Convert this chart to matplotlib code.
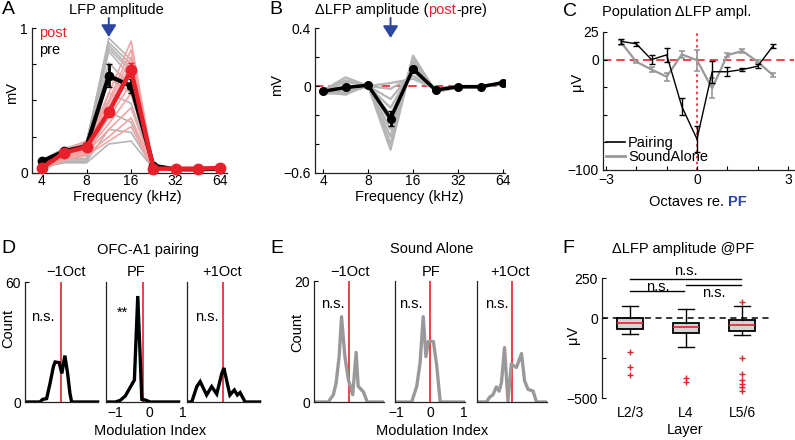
import matplotlib
matplotlib.use('Agg')
import matplotlib.pyplot as plt
from matplotlib.ticker import NullLocator
from matplotlib.lines import Line2D

plt.rcParams['font.family'] = ['Liberation Sans', 'DejaVu Sans']
plt.rcParams['font.size'] = 10
plt.rcParams['axes.linewidth'] = 0.9
plt.rcParams['axes.edgecolor'] = '#222222'
plt.rcParams['xtick.direction'] = 'in'
plt.rcParams['ytick.direction'] = 'in'
plt.rcParams['xtick.major.size'] = 3
plt.rcParams['ytick.major.size'] = 3
plt.rcParams['xtick.major.pad'] = 0.8
plt.rcParams['ytick.major.pad'] = 3
plt.rcParams['xtick.labelsize'] = 10
plt.rcParams['ytick.labelsize'] = 10

RED = '#e8202a'
PINK = '#f3a3a3'
GRAY = '#b5b5b5'
MGRAY = '#999999'
BLUE = '#2c45a0'
FS = 10.5

# ---------------- data ----------------
freqs = [4, 5.66, 8, 11.31, 16, 22.63, 32, 45.25, 64]
freq_ticks = [4, 8, 16, 32, 64]
pre_mean = [0.08, 0.15, 0.185, 0.67, 0.60, 0.05, 0.025, 0.025, 0.03]
pre_err = [0.01, 0.01, 0.01, 0.08, 0.05, 0.01, 0.005, 0.005, 0.005]
post_mean = [0.035, 0.14, 0.18, 0.42, 0.71, 0.03, 0.03, 0.03, 0.035]
post_err = [0.01, 0.01, 0.01, 0.03, 0.05, 0.005, 0.005, 0.005, 0.005]
pre_ind = [
    [0.08, 0.15, 0.20, 0.93, 0.78, 0.05, 0.03, 0.03, 0.03],
    [0.09, 0.17, 0.21, 0.90, 0.75, 0.04, 0.03, 0.03, 0.03],
    [0.07, 0.14, 0.18, 0.88, 0.72, 0.05, 0.02, 0.03, 0.03],
    [0.08, 0.16, 0.22, 0.86, 0.70, 0.06, 0.03, 0.03, 0.04],
    [0.06, 0.12, 0.15, 0.84, 0.66, 0.04, 0.02, 0.02, 0.03],
    [0.07, 0.13, 0.17, 0.76, 0.60, 0.05, 0.03, 0.03, 0.03],
    [0.05, 0.11, 0.12, 0.66, 0.55, 0.04, 0.02, 0.02, 0.03],
    [0.06, 0.10, 0.10, 0.55, 0.48, 0.03, 0.02, 0.02, 0.02],
    [0.05, 0.09, 0.09, 0.42, 0.35, 0.03, 0.02, 0.02, 0.02],
    [0.05, 0.08, 0.08, 0.30, 0.28, 0.03, 0.02, 0.02, 0.02],
    [0.04, 0.07, 0.07, 0.20, 0.22, 0.03, 0.02, 0.02, 0.02],
]
post_ind = [
    [0.04, 0.15, 0.20, 0.55, 0.91, 0.04, 0.02, 0.03, 0.03],
    [0.05, 0.16, 0.22, 0.50, 0.85, 0.03, 0.02, 0.03, 0.03],
    [0.03, 0.14, 0.19, 0.48, 0.80, 0.03, 0.02, 0.02, 0.03],
    [0.04, 0.15, 0.18, 0.45, 0.76, 0.04, 0.02, 0.03, 0.04],
    [0.03, 0.13, 0.17, 0.42, 0.70, 0.03, 0.02, 0.03, 0.03],
    [0.04, 0.12, 0.16, 0.38, 0.62, 0.03, 0.02, 0.02, 0.03],
    [0.03, 0.12, 0.15, 0.34, 0.55, 0.03, 0.02, 0.02, 0.03],
    [0.03, 0.11, 0.14, 0.30, 0.45, 0.02, 0.02, 0.02, 0.02],
    [0.03, 0.10, 0.13, 0.25, 0.38, 0.02, 0.02, 0.02, 0.02],
    [0.02, 0.09, 0.12, 0.22, 0.32, 0.02, 0.02, 0.02, 0.02],
]

diff_mean = [-0.037, -0.01, 0.005, -0.225, 0.118, -0.028, -0.005, -0.005, 0.023]
diff_err = [0.005, 0.01, 0.005, 0.05, 0.02, 0.005, 0.005, 0.005, 0.005]
diff_ind = [
    [-0.03, 0.06, 0.00, 0.02, 0.05, -0.02, 0.00, 0.00, 0.01],
    [-0.03, 0.04, 0.00, -0.02, 0.07, -0.02, 0.00, 0.00, 0.01],
    [-0.04, 0.03, 0.00, -0.09, 0.10, -0.03, -0.01, 0.00, 0.02],
    [-0.04, 0.00, 0.00, -0.15, 0.12, -0.03, -0.01, -0.01, 0.02],
    [-0.04, -0.02, 0.00, -0.20, 0.14, -0.03, -0.01, -0.01, 0.02],
    [-0.05, -0.03, 0.01, -0.25, 0.16, -0.04, -0.01, -0.01, 0.02],
    [-0.04, -0.04, 0.00, -0.30, 0.18, -0.03, 0.00, -0.01, 0.02],
    [-0.05, -0.05, 0.00, -0.35, 0.20, -0.04, -0.01, -0.01, 0.03],
    [-0.04, -0.06, 0.01, -0.40, 0.21, -0.04, -0.01, -0.01, 0.02],
    [-0.05, -0.05, 0.00, -0.44, 0.19, -0.04, 0.00, -0.01, 0.02],
]

octaves = [-2.5, -2, -1.5, -1, -0.5, 0, 0.5, 1, 1.5, 2, 2.5]
pair_mean = [16.5, 14.3, 0, 4.3, -42.5, -72, -11, -11, -9, -6, 12]
pair_err = [2.3, 1.9, 3.9, 6.5, 7.8, 12, 10, 4.2, 1.5, 1.7, 1.9]
alone_mean = [15.5, -2, -9, -15.5, 4.7, -0.6, -26, 4, 7.8, -2, -14]
alone_err = [2, 1, 2, 3.5, 3, 9.3, 9, 2, 1.5, 1.5, 1.5]

d_minus_x = [-1.28, -0.84, -0.76, -0.64, -0.54, -0.44, -0.39, -0.27, -0.19, -0.10, -0.02, 0.05, 0.10, 0.87]
d_minus_y = [0, 0, 1.3, 1.7, 9.3, 17.7, 20, 19.7, 14.3, 23.2, 14.3, 4.3, 0, 0]
d_pf_x = [-1.28, -1.0, -0.86, -0.71, -0.44, -0.34, -0.22, -0.12, 0.03, 0.87]
d_pf_y = [0, 0, 0.8, 3, 11, 53, 1.3, 1.0, 0, 0]
d_plus_x = [-1.28, -1.14, -0.99, -0.89, -0.70, -0.55, -0.40, -0.25, -0.19, -0.01, 0.12, 0.21, 0.29, 0.44, 0.87]
d_plus_y = [0, 0, 7.7, 10.2, 3.5, 7.7, 4, 14.3, 17, 3.5, 6, 3.5, 4.7, 0, 0]
d_red = [-0.22, -0.19, -0.21]

e_minus_x = [-1.03, -0.61, -0.46, -0.38, -0.29, -0.22, -0.12, -0.02, 0.11, 0.21, 0.27, 0.42, 0.54, 1.03]
e_minus_y = [0, 0, 1.2, 3.1, 7.5, 14.1, 7.5, 3.7, 1.2, 8.2, 2.6, 1.7, 0, 0]
e_pf_x = [-1.03, -0.54, -0.39, -0.29, -0.20, -0.12, -0.05, 0.10, 0.20, 0.30, 1.03]
e_pf_y = [0, 0, 2.6, 6.6, 14.1, 7.5, 10, 10, 5.9, 0, 0]
e_plus_x = [-1.03, -0.75, -0.66, -0.56, -0.46, -0.38, -0.31, -0.22, -0.12, -0.02, 0.13, 0.28, 0.37, 0.47, 0.62, 0.72, 1.03]
e_plus_y = [0, 0, 0.8, 1.2, 2.5, 1.8, 3.2, 9.0, 0.2, 6.3, 5.7, 8.0, 3.5, 2.1, 1.8, 0, 0]
e_red = [0.0, 0.0, 0.0]

layers = ['L2/3', 'L4', 'L5/6']
box_q1 = [-67, -94, -83]
box_med = [-33, -58, -46]
box_q3 = [0, -31, -15]
whisk_lo = [-98, -183, -106]
whisk_hi = [77, 56, 73]
fliers_l23 = [-212, -306, -358]
fliers_l4 = [-375, -400]
fliers_l56 = [98, -250, -350, -390, -410, -431, -458]

# ---------------- figure ----------------
W, H = 795, 440
fig = plt.figure(figsize=(W / 100, H / 100), dpi=100)


def add_ax(x0, y0, x1, y1):
    ax = fig.add_axes([x0 / W, 1 - y1 / H, (x1 - x0) / W, (y1 - y0) / H])
    ax.patch.set_alpha(0)
    for s in ['top', 'right']:
        ax.spines[s].set_visible(False)
    return ax


def ftext(x, y, s, **kw):
    kw.setdefault('ha', 'center')
    kw.setdefault('va', 'center')
    kw.setdefault('fontsize', FS)
    return fig.text(x / W, 1 - y / H, s, **kw)


def chain(x, y_base, parts):
    r = fig.canvas.get_renderer()
    xx = x
    for s, c, gap, extra in parts:
        xx += gap
        t = fig.text(xx / W, 1 - y_base / H, s, color=c, ha='left', va='baseline',
                     fontsize=FS, **extra)
        bb = t.get_window_extent(r)
        xx = bb.x1


def arrow(ax, xdata, y0, y1):
    ax.annotate('', xy=(xdata, 1 - y1 / H), xytext=(xdata, 1 - y0 / H),
                xycoords=('data', 'figure fraction'), textcoords=('data', 'figure fraction'),
                arrowprops=dict(arrowstyle='-|>,head_length=0.6,head_width=0.38',
                                mutation_scale=12, color=BLUE, lw=1.4, shrinkA=0, shrinkB=0),
                annotation_clip=False)


# ---------------- A ----------------
axA = add_ax(32, 28, 227, 173)
axA.set_xscale('log', base=2)
for row in pre_ind:
    axA.plot(freqs, row, color=GRAY, lw=1.2, zorder=1)
for row in post_ind:
    axA.plot(freqs, row, color=PINK, lw=1.2, zorder=1.5)
axA.errorbar(freqs, pre_mean, yerr=pre_err, color='k', lw=3, marker='o', ms=6,
             capsize=2, elinewidth=2, zorder=3, clip_on=False)
axA.errorbar(freqs, post_mean, yerr=post_err, color=RED, lw=3.2, marker='o', ms=7.5,
             capsize=2, elinewidth=2, zorder=4, clip_on=False)
axA.set_xlim(3.43, 71)
axA.set_ylim(0, 1)
axA.xaxis.set_minor_locator(NullLocator())
axA.set_xticks(freq_ticks, [str(f) for f in freq_ticks])
axA.set_yticks([0, 0.25, 0.5, 0.75, 1], ['0', '', '', '', '1'])
ftext(12, 93, 'mV', rotation=90)
ftext(127, 197, 'Frequency (kHz)')
ftext(116, 10, 'LFP amplitude')
ftext(39, 33, 'post', ha='left', color=RED)
ftext(39, 50, 'pre', ha='left', color='k')
arrow(axA, freqs[3], 18, 37)

# ---------------- B ----------------
axB = add_ax(315, 28, 505, 173)
axB.set_xscale('log', base=2)
axB.axhline(0, color=RED, lw=1.2, ls=(0, (5, 3)), zorder=0.5)
for row in diff_ind:
    axB.plot(freqs, row, color=GRAY, lw=1.6, zorder=1)
axB.errorbar(freqs, diff_mean, yerr=diff_err, color='k', lw=2.5, marker='o', ms=5.5,
             capsize=2, elinewidth=2, zorder=3)
axB.set_xlim(3.53, 66)
axB.set_ylim(-0.6, 0.4)
axB.xaxis.set_minor_locator(NullLocator())
axB.set_xticks(freq_ticks, [str(f) for f in freq_ticks])
axB.set_yticks([-0.6, -0.4, -0.2, 0, 0.2, 0.4], ['\u22120.6', '', '', '0', '', '0.4'])
ftext(277, 85, 'mV', rotation=90)
ftext(409, 197, 'Frequency (kHz)')
chain(315, 14, [('\u0394LFP amplitude (', 'k', 0, {}), ('post', RED, 0, {}), ('-pre)', 'k', 0, {})])
arrow(axB, freqs[3], 18, 38)

# ---------------- C ----------------
axC = add_ax(603, 32, 794, 170)
axC.axhline(0, color=RED, lw=1.2, ls=(0, (5, 3)), zorder=0.5)
axC.axvline(0, color=RED, lw=1.2, ls=(0, (1.5, 2)), zorder=0.5)
axC.errorbar(octaves, pair_mean, yerr=pair_err, color='k', lw=1.0, capsize=2,
             elinewidth=1, capthick=1, zorder=3)
axC.errorbar(octaves, alone_mean, yerr=alone_err, color=MGRAY, lw=1.6, capsize=2,
             elinewidth=1.2, capthick=1.2, zorder=2)
axC.set_xlim(-3.1, 3.2)
axC.set_ylim(-100, 25)
axC.set_xticks([-3, -2, -1, 0, 1, 2, 3], ['\u22123', '', '', '0', '', '', '3'])
axC.set_yticks([-100, -75, -50, -25, 0, 25], ['\u2212100', '', '', '', '0', '25'])
axC.tick_params(axis='x', pad=2)
handles = [Line2D([], [], color='k', lw=1.2), Line2D([], [], color=MGRAY, lw=2)]
axC.legend(handles, ['Pairing', 'SoundAlone'], loc='upper left',
           bbox_to_anchor=(606 / W, 1 - 136 / H), bbox_transform=fig.transFigure,
           frameon=False, fontsize=FS, handlelength=1.3, handletextpad=0.2,
           labelspacing=0.0, borderpad=0, borderaxespad=0)
ftext(577, 82, '\u03bcV', rotation=90)
ftext(677, 12, 'Population \u0394LFP ampl.')
chain(649, 206, [('Octaves re.', 'k', 0, {}), ('PF', BLUE, 4, {'fontweight': 'bold'})])

# ---------------- D ----------------
d_curves = [(d_minus_x, d_minus_y), (d_pf_x, d_pf_y), (d_plus_x, d_plus_y)]
d_left = [25, 106, 187]
for i, (xs, ys) in enumerate(d_curves):
    ax = add_ax(d_left[i], 282, d_left[i] + 2.28 * 33.8, 402)
    ax.set_xlim(-1.28, 1.0)
    ax.set_ylim(0, 60)
    ax.spines['bottom'].set_bounds(-1.28, 0.87)
    ax.axvline(d_red[i], color=RED, lw=1.2, zorder=1)
    ax.plot(xs, ys, color='k', lw=2.4, zorder=2, solid_joinstyle='miter')
    ax.tick_params(axis='x', length=0, pad=3)
    if i == 0:
        ax.set_yticks([0, 60], ['0', '60'])
    else:
        ax.set_yticks([])
    if i == 1:
        ax.set_xticks([-1, 0, 1], ['\u22121', '0', '1'])
    else:
        ax.set_xticks([])
ftext(148, 250, 'OFC-A1 pairing')
ftext(66, 272, '\u22121Oct')
ftext(136, 272, 'PF')
ftext(222, 272, '+1Oct')
ftext(43, 317, 'n.s.')
ftext(122, 313, '**')
ftext(207, 317, 'n.s.')
ftext(8, 328, 'Count', rotation=90)
ftext(150, 431, 'Modulation Index')

# ---------------- E ----------------
e_curves = [(e_minus_x, e_minus_y), (e_pf_x, e_pf_y), (e_plus_x, e_plus_y)]
e_left = [314, 395, 477]
for i, (xs, ys) in enumerate(e_curves):
    ax = add_ax(e_left[i], 281, e_left[i] + 70, 402)
    ax.set_xlim(-1.03, 1.03)
    ax.set_ylim(0, 20)
    ax.axvline(e_red[i], color=RED, lw=1.2, zorder=1)
    ax.plot(xs, ys, color=MGRAY, lw=2.4, zorder=2)
    ax.tick_params(axis='x', length=0, pad=3)
    if i == 0:
        ax.set_yticks([0, 20], ['0', '20'])
    else:
        ax.set_yticks([])
    if i == 1:
        ax.set_xticks([-1, 0, 1], ['\u22121', '0', '1'])
    else:
        ax.set_xticks([])
ftext(432, 249, 'Sound Alone')
ftext(350, 272, '\u22121Oct')
ftext(431, 272, 'PF')
ftext(510, 272, '+1Oct')
ftext(333, 304, 'n.s.')
ftext(411, 304, 'n.s.')
ftext(497, 304, 'n.s.')
ftext(297, 332, 'Count', rotation=90)
ftext(432, 431, 'Modulation Index')

# ---------------- F ----------------
axF = add_ax(602, 278, 770, 398)
axF.spines['bottom'].set_visible(False)
axF.axhline(0, color='k', lw=1.1, ls=(0, (4, 3)), zorder=0.5)
fliers = [fliers_l23, fliers_l4, fliers_l56]
stats = []
for i in range(3):
    stats.append(dict(med=box_med[i], q1=box_q1[i], q3=box_q3[i],
                      whislo=whisk_lo[i], whishi=whisk_hi[i], fliers=fliers[i]))
axF.bxp(stats, positions=[1, 2, 3], widths=0.45, capwidths=0.27, patch_artist=True,
        boxprops=dict(facecolor='#d4d4d4', edgecolor='k', lw=1.3),
        medianprops=dict(color=RED, lw=1.2),
        whiskerprops=dict(color='k', lw=1.0), capprops=dict(color='k', lw=1.0),
        flierprops=dict(marker='+', markeredgecolor=RED, markersize=5, ls='none',
                        markeredgewidth=1.0),
        manage_ticks=False)
axF.set_xlim(0.5, 3.5)
axF.set_ylim(-500, 250)
axF.set_yticks([-500, -250, 0, 250], ['\u2212500', '', '0', '250'])
axF.set_xticks([1, 2, 3], layers)
axF.tick_params(axis='x', length=0, pad=6)
sig_lines = [((1.0, 2.98), 244, 2.0, 294), ((1.0, 1.96), 169, 1.5, 196), ((2.0, 2.98), 204, 2.5, 154)]
for (xa, xb), yl, xt, yt in sig_lines:
    axF.plot([xa, xb], [yl, yl], color='k', lw=1.0, clip_on=False)
    axF.text(xt, yt, 'n.s.', ha='center', va='center', fontsize=FS, clip_on=False)
ftext(683, 249, '\u0394LFP amplitude @PF')
ftext(573, 335, '\u03bcV', rotation=90)
ftext(685, 430, 'Layer')

# ---------------- panel letters ----------------
for letter, (x, y) in zip('ABCDEF', [(8, 10), (276, 10), (570, 12), (8, 248), (277, 248), (568, 248)]):
    ftext(x, y, letter, fontsize=14)

fig.savefig('out.png', dpi=100)
